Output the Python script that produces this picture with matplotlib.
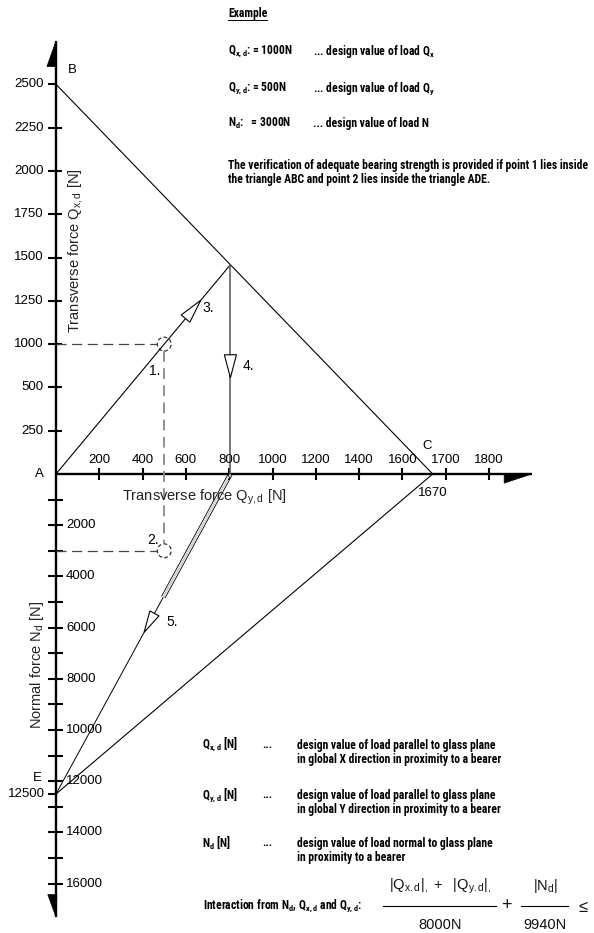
import numpy as np
import matplotlib
matplotlib.use('Agg')
import matplotlib.pyplot as plt
from matplotlib import font_manager
from matplotlib.patches import Polygon, Circle
from matplotlib.lines import Line2D

# tick values along the axes (drawing is not to scale: one labelled tick = one step)
qy_ticks = [0, 200, 400, 600, 800, 1000, 1200, 1400, 1600, 1700, 1800]
qx_ticks = [0, 250, 500, 1000, 1250, 1500, 1750, 2000, 2250, 2500]
n_ticks = list(range(1000, 17000, 1000))
n_labels = [2000, 4000, 6000, 8000, 10000, 12000, 14000, 16000]

# example loads
qx_d = 1000
qy_d = 500
n_d = 3000

# triangle corners
qx_B = 2500
qy_C = 1670
n_E = 12500

names = {f.name for f in font_manager.fontManager.ttflist}
narrow = 'Liberation Sans'
for cand in ['Liberation Sans Narrow', 'DejaVu Sans Condensed', 'Roboto Condensed']:
    if cand in names:
        narrow = cand
        break

plt.rcParams['font.family'] = ['Liberation Sans', 'DejaVu Sans']
plt.rcParams['mathtext.fontset'] = 'custom'
plt.rcParams['mathtext.rm'] = 'Liberation Sans'
plt.rcParams['mathtext.it'] = 'Liberation Sans'
plt.rcParams['mathtext.bf'] = 'Liberation Sans:bold'
plt.rcParams['mathtext.default'] = 'regular'

U = 43.3          # pixels per tick step
N_SCALE = 25.6 / U / 1000


def X(qy):
    return np.interp(qy, qy_ticks, np.arange(len(qy_ticks)))


def Y(qx):
    return np.interp(qx, qx_ticks, np.arange(len(qx_ticks)))


def YN(n):
    return -np.asarray(n, dtype=float) * N_SCALE


fig = plt.figure(figsize=(5.94, 9.33), dpi=100)
ax = fig.add_axes([0, 0, 1, 1])
ax.set_xlim(-56 / U, (594 - 56) / U)
ax.set_ylim(-(933 - 474) / U, 474 / U)
ax.axis('off')

k = dict(color='black', solid_capstyle='butt')

# axes
ybot = YN(16800)[()] - 0.3
ax.plot([0, 0], [ybot, Y(2500) + 1.0], lw=1.7, **k)
ax.plot([0, 10.99], [0, 0], lw=1.7, **k)
ax.add_patch(Polygon([[0, Y(2500) + 1.0], [-0.21, Y(2500) + 0.41], [0, Y(2500) + 0.41]], fc='black', ec='black', lw=0.5))
ax.add_patch(Polygon([[10.35, 0], [10.35, -0.21], [10.99, 0]], fc='black', ec='black', lw=0.5))
ax.add_patch(Polygon([[-0.19, ybot + 0.52], [0.02, ybot + 0.52], [0.0, ybot]], fc='black', ec='black', lw=0.5))

tick_fs = 9.5
for i, v in enumerate(qy_ticks[1:], start=1):
    ax.plot([i, i], [-0.14, 0.14], lw=1.5, **k)
    ax.text(i, 0.33, str(v), ha='center', va='center', fontsize=tick_fs)
for i, v in enumerate(qx_ticks[1:], start=1):
    ax.plot([-0.19, 0.14 if v != qx_B else 0.02], [i, i], lw=1.5, **k)
    ax.text(-0.28, i, str(v), ha='right', va='center', fontsize=tick_fs)
for v in n_ticks:
    ax.plot([-0.19, 0.16], [YN(v), YN(v)], lw=1.5, **k)
    if v in n_labels:
        ax.text(0.23, YN(v), str(v), ha='left', va='center', fontsize=tick_fs)
ax.plot([-0.19, 0], [YN(n_E), YN(n_E)], lw=1.5, **k)
ax.text(-0.25, YN(n_E), str(n_E), ha='right', va='center', fontsize=tick_fs)

# corner labels
ax.text(-0.28, 0, 'A', ha='right', va='center', fontsize=tick_fs)
ax.text(0.28, Y(qx_B) + 0.33, 'B', ha='left', va='center', fontsize=tick_fs)
ax.text(X(qy_C) - 0.13, 0.65, 'C', ha='center', va='center', fontsize=tick_fs)
ax.text(X(qy_C), -0.44, str(qy_C), ha='center', va='center', fontsize=tick_fs)
ax.text(-0.44, YN(n_E) + 0.37, 'E', ha='center', va='center', fontsize=tick_fs)

# axis titles
ax.text(0.44, 5.17, r'Transverse force $Q_{x,d}$ [N]', rotation=90, ha='center', va='center', fontsize=10.5, color='#222')
ax.text(3.42, -0.53, r'Transverse force $Q_{y,d}$ [N]', ha='center', va='center', fontsize=10.5, color='#222')
ax.text(-0.44, -4.41, r'Normal force $N_{d}$ [N]', rotation=90, ha='center', va='center', fontsize=10.5, color='#222')

# triangle ABC and ADE
xC = X(qy_C)
yB = Y(qx_B)
yE = YN(n_E)[()]
ax.plot([0, xC], [yB, 0], lw=0.8, **k)
ax.plot([xC, 0], [0, yE], lw=0.8, **k)

# point 1 and 2
x1, y1 = X(qy_d), Y(qx_d)
y2 = YN(n_d)[()]
s = yB / (y1 + yB * x1 / xC)
xa, ya = x1 * s, y1 * s
ax.plot([0, xa], [0, ya], lw=0.8, **k)
ax.plot([xa, xa], [ya, 0], lw=1.1, color='#555')
# path 5 with double line near the axis
ax.plot([xa, 0], [0, yE], lw=0.7, **k)
t_dbl = 0.385
d5 = np.array([-xa, yE]) / np.hypot(xa, yE)
off = np.array([-d5[1], d5[0]]) * 0.045
x5 = np.array([xa, xa * (1 - t_dbl)])
y5 = np.array([0, t_dbl * yE])
ax.plot(x5 + off[0], y5 + off[1], lw=0.6, **k)
ax.plot(x5 - off[0], y5 - off[1], lw=0.6, **k)
ax.plot(x5, y5, lw=0.7, color='white', solid_capstyle='butt')

r = 0.16
ax.plot([0, x1 - r], [y1, y1], lw=0.9, color='#444', dashes=(8, 4.5))
ax.plot([0, x1 - r], [y2, y2], lw=0.9, color='#444', dashes=(8, 4.5))
ax.plot([x1, x1], [y1 - r, y2 + r], lw=1.3, color='#888', dashes=(6, 3.5))
for yy in (y1, y2):
    ax.add_patch(Circle((x1, yy), r, fill=False, ec='#333', lw=0.9, ls=(0, (3, 2))))


def hollow_arrow(p0, p1, t, length, half):
    p0 = np.array(p0, float)
    p1 = np.array(p1, float)
    d = (p1 - p0) / np.hypot(*(p1 - p0))
    tip = p0 + t * (p1 - p0)
    base = tip - length * d
    perp = np.array([-d[1], d[0]])
    ax.add_patch(Polygon([tip, base + half * perp, base - half * perp], closed=True,
                         fc='white', ec='black', lw=0.8, zorder=5))


hollow_arrow((0, 0), (xa, ya), 0.83, 0.55, 0.13)
hollow_arrow((xa, ya), (xa, 0), 0.54, 0.53, 0.14)
hollow_arrow((xa, 0), (0, yE), 0.495, 0.5, 0.12)

lab_fs = 10
ax.text(x1 - 0.22, y1 - 0.62, '1.', fontsize=lab_fs, ha='center', va='center')
ax.text(x1 - 0.26, y2 + 0.26, '2.', fontsize=lab_fs, ha='center', va='center')
ax.text(3.51, 3.83, '3.', fontsize=lab_fs, ha='center', va='center')
ax.text(xa + 0.41, 2.49, '4.', fontsize=lab_fs, ha='center', va='center')
ax.text(2.68, -3.42, '5.', fontsize=lab_fs, ha='center', va='center')


# text blocks (figure pixel positions)
def ft(px, py, s, **kw):
    kw.setdefault('fontsize', 8.4)
    kw.setdefault('fontweight', 'bold')
    kw.setdefault('family', [narrow, 'DejaVu Sans'])
    kw.setdefault('va', 'center')
    return fig.text(px / 594, 1 - py / 933, s, **kw)


ex = ft(228, 13, 'Example')
ft(228, 52, r'$\mathregular{Q_{x,d}}$: = 1000N')
ft(313, 52, r'... design value of load $\mathregular{Q_x}$')
ft(228, 88, r'$\mathregular{Q_{y,d}}$: = 500N')
ft(313, 88, r'... design value of load $\mathregular{Q_y}$')
ft(228, 123, r'$\mathregular{N_d}$:   = 3000N')
ft(313, 123, '... design value of load N')
ft(228, 165, 'The verification of adequate bearing strength is provided if point 1 lies inside')
ft(228, 180, 'the triangle ABC and point 2 lies inside the triangle ADE.')

ft(202, 745, r'$\mathregular{Q_{x,d}}$ [N]')
ft(262, 745, '...')
ft(297, 745, 'design value of load parallel to glass plane')
ft(297, 760, 'in global X direction in proximity to a bearer')
ft(202, 795, r'$\mathregular{Q_{y,d}}$ [N]')
ft(262, 795, '...')
ft(297, 795, 'design value of load parallel to glass plane')
ft(297, 810, 'in global Y direction in proximity to a bearer')
ft(202, 843, r'$\mathregular{N_d}$ [N]')
ft(262, 843, '...')
ft(297, 843, 'design value of load normal to glass plane')
ft(297, 858, 'in proximity to a bearer')

ft(203, 906, r'Interaction from $\mathregular{N_d}$, $\mathregular{Q_{x,d}}$ and $\mathregular{Q_{y,d}}$:')
reg = dict(fontweight='normal', family=['Liberation Sans', 'DejaVu Sans'], fontsize=10.5, ha='center', color='#111')
ft(440, 886, r'$\mathregular{|Q_{x.d}|_{,}\ +\ \ |Q_{y.d}|_{,}}$', **reg)
ft(440, 925, '8000N', **reg)
ft(506, 906, '+', **dict(reg, fontsize=13))
ft(545, 886, r'$\mathregular{|N_d|}$', **reg)
ft(545, 925, '9940N', **reg)
ft(583, 908, '≤', **dict(reg, fontsize=12))
fig.add_artist(Line2D([383 / 594, 496 / 594], [1 - 906 / 933] * 2, lw=0.8, color='black'))
fig.add_artist(Line2D([521 / 594, 568 / 594], [1 - 906 / 933] * 2, lw=0.8, color='black'))

fig.canvas.draw()
bb = ex.get_window_extent().transformed(fig.transFigure.inverted())
fig.add_artist(Line2D([bb.x0, bb.x1], [bb.y0 - 0.001] * 2, lw=0.7, color='black'))

fig.savefig('out.png', dpi=100)
